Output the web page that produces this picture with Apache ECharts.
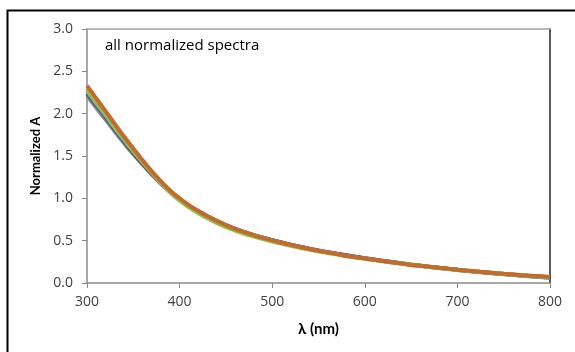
<!DOCTYPE html>
<html><head><meta charset="utf-8">
<script src="https://cdn.jsdelivr.net/npm/echarts@6/dist/echarts.min.js"></script>
<style>html,body{margin:0;padding:0;background:#fff}#c{width:575px;height:352px}</style>
</head><body><div id="c"></div>
<script>
const wavelengths = [300,310,320,330,340,350,360,370,380,390,400,410,420,430,440,450,460,470,480,490,500,510,520,530,540,550,560,570,580,590,600,610,620,630,640,650,660,670,680,690,700,710,720,730,740,750,760,770,780,790,800];
const specGray   = [2.21,2.07,1.93,1.79,1.65,1.52,1.40,1.28,1.17,1.07,0.985,0.91,0.845,0.785,0.73,0.68,0.64,0.60,0.565,0.535,0.505,0.478,0.452,0.428,0.405,0.384,0.364,0.345,0.327,0.31,0.294,0.278,0.262,0.247,0.232,0.218,0.205,0.192,0.18,0.168,0.157,0.146,0.136,0.126,0.116,0.107,0.098,0.089,0.081,0.073,0.065];
const specPurple = [2.24,2.10,1.96,1.81,1.67,1.54,1.41,1.29,1.18,1.08,0.99,0.915,0.85,0.79,0.735,0.685,0.64,0.60,0.565,0.535,0.505,0.478,0.452,0.428,0.405,0.384,0.364,0.345,0.327,0.31,0.293,0.277,0.261,0.246,0.231,0.217,0.204,0.191,0.179,0.167,0.156,0.145,0.135,0.125,0.115,0.106,0.097,0.088,0.08,0.072,0.064];
const specGreen  = [2.28,2.13,1.99,1.84,1.70,1.56,1.43,1.30,1.18,1.07,0.975,0.895,0.825,0.765,0.71,0.66,0.62,0.58,0.548,0.518,0.49,0.465,0.44,0.416,0.394,0.373,0.354,0.336,0.318,0.302,0.286,0.271,0.256,0.242,0.228,0.215,0.202,0.19,0.178,0.167,0.156,0.146,0.136,0.126,0.117,0.108,0.1,0.092,0.084,0.077,0.07];
const specTeal   = [2.26,2.11,1.97,1.82,1.68,1.55,1.42,1.30,1.19,1.09,1.0,0.92,0.855,0.795,0.74,0.69,0.645,0.605,0.57,0.54,0.51,0.483,0.457,0.432,0.408,0.386,0.365,0.345,0.326,0.308,0.29,0.273,0.257,0.241,0.226,0.211,0.197,0.184,0.171,0.159,0.148,0.137,0.127,0.117,0.107,0.098,0.089,0.08,0.072,0.064,0.056];
const specOrange = [2.33,2.18,2.03,1.88,1.73,1.59,1.45,1.32,1.20,1.09,1.00,0.92,0.85,0.79,0.735,0.685,0.64,0.60,0.565,0.533,0.503,0.476,0.45,0.425,0.402,0.381,0.361,0.342,0.318,0.305,0.289,0.273,0.258,0.243,0.229,0.21,0.203,0.191,0.179,0.168,0.157,0.147,0.137,0.127,0.118,0.109,0.101,0.093,0.086,0.079,0.072];
const xTicks = [300,400,500,600,700,800];
const yTicks = ['0.0','0.5','1.0','1.5','2.0','2.5','3.0'];

const mk = (arr) => wavelengths.map((w,i)=>[w,arr[i]]);
const seriesDefs = [
  {name:'s1', data: specGray, color:'#8c8c8c', w:4},
  {name:'s2', data: specPurple, color:'#5b4a7a', w:4},
  {name:'s3', data: specTeal, color:'#6aa3b8', w:3},
  {name:'s4', data: specGreen, color:'#8fbf4f', w:4},
  {name:'s5', data: specOrange, color:'#c46b2c', w:4}
];
const tickFont = '"Open Sans", sans-serif';
const nameFont = 'Lato, "Open Sans", sans-serif';
const chart = echarts.init(document.getElementById('c'), null, {renderer:'canvas'});
chart.setOption({
  animation:false,
  backgroundColor:'#fff',
  grid:{left:87,right:25,top:29,bottom:69,containLabel:false},
  graphic:[
    {type:'rect', shape:{x:7.5,y:10.5,width:700,height:500}, style:{fill:'none',stroke:'#000',lineWidth:2}, z:0},
    {type:'text', left:105, top:38, style:{text:'all normalized spectra', font:'15px '+tickFont, fill:'#000'}}
  ],
  xAxis:[{
    type:'value', min:300, max:800, interval:100,
    name:'λ (nm)', nameLocation:'middle', nameGap:39,
    nameTextStyle:{fontFamily:nameFont, fontWeight:'bold', fontSize:15, color:'#000'},
    axisLine:{onZero:false,lineStyle:{color:'#8a8a8a',width:1.5}},
    axisTick:{show:true,length:5,inside:false,lineStyle:{color:'#8a8a8a'}},
    axisLabel:{fontFamily:tickFont,fontSize:14,color:'#404040',margin:12, formatter:v=>xTicks.includes(v)?String(v):''},
    splitLine:{show:false}
  },{
    type:'value', position:'top', min:300, max:800,
    axisLine:{show:true,onZero:false,lineStyle:{color:'#a0a0a0',width:1.5}},
    axisTick:{show:false}, axisLabel:{show:false}, splitLine:{show:false}
  }],
  yAxis:[{
    type:'value', min:0, max:3, interval:0.5,
    name:'Normalized A', nameLocation:'middle', nameGap:43,
    nameTextStyle:{fontFamily:nameFont, fontWeight:'bold', fontSize:13, color:'#000'},
    axisLine:{show:true,onZero:false,lineStyle:{color:'#8a8a8a',width:1.5}},
    axisTick:{show:true,length:5,inside:false,lineStyle:{color:'#8a8a8a'}},
    axisLabel:{fontFamily:tickFont,fontSize:14,color:'#404040',margin:14, formatter:v=>yTicks[Math.round(v*2)]},
    splitLine:{show:false}
  },{
    type:'value', position:'right', min:0, max:3,
    axisLine:{show:true,onZero:false,lineStyle:{color:'#222',width:1.5}},
    axisTick:{show:false}, axisLabel:{show:false}, splitLine:{show:false}
  }],
  series: seriesDefs.map(s=>({
    type:'line', name:s.name, data:mk(s.data), showSymbol:false, smooth:true,
    lineStyle:{color:s.color,width:s.w}, itemStyle:{color:s.color}, z:2
  }))
});
</script></body></html>
